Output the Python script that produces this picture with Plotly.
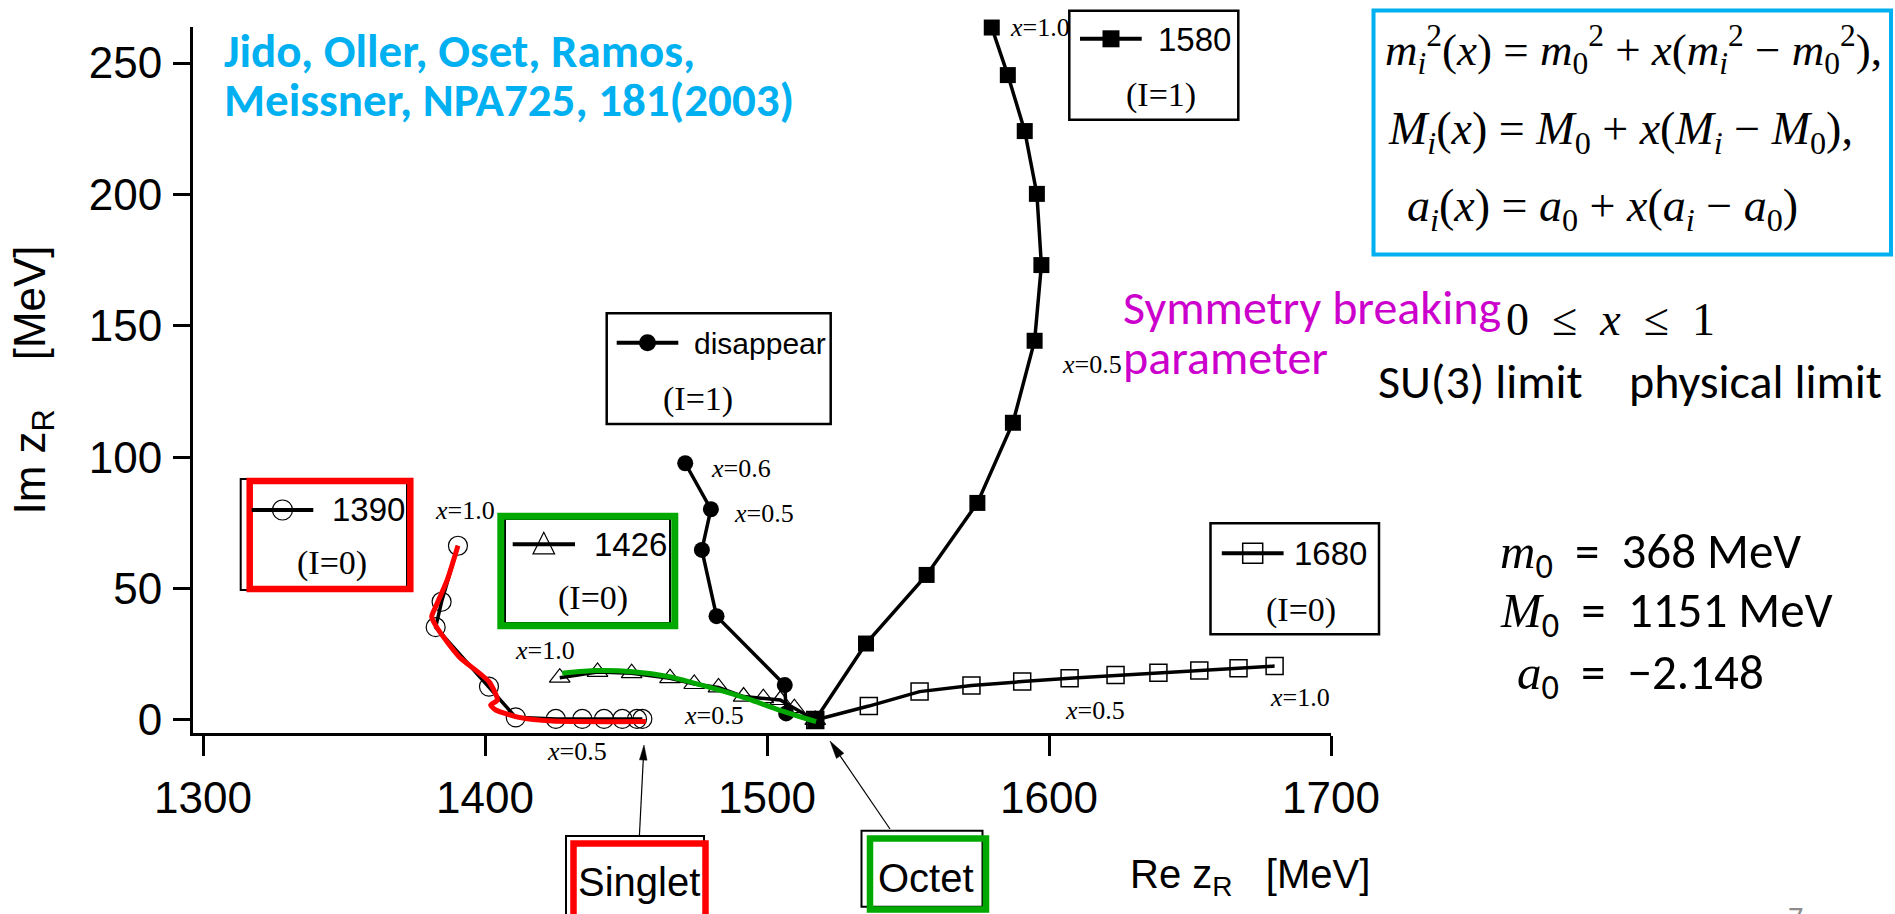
import math
import plotly.graph_objects as go

# ---------------------------------------------------------------
# Pole trajectories of the 1/2- Lambda/Sigma resonances (Re z_R, Im z_R in MeV)
# as the SU(3) breaking parameter x goes from 1.0 (physical) to 0.0 (SU(3) limit)
# ---------------------------------------------------------------
re_1390 = [1390.4, 1384.6, 1382.5, 1401.4, 1410.9, 1425.1, 1434.5, 1442.2, 1448.7, 1453.9, 1455.8]
im_1390 = [66.3, 45.0, 35.3, 12.7, 1.0, 0.4, 0.4, 0.4, 0.4, 0.4, 0.4]

re_1426 = [1426.5, 1439.9, 1452.0, 1465.6, 1474.2, 1482.8, 1491.7, 1498.7, 1504.7, 1509.7, 1517.1]
im_1426 = [16.1, 18.3, 17.8, 15.9, 13.7, 12.4, 8.9, 8.3, 7.6, 4.5, 0.0]

re_disappear = [1471.0, 1480.1, 1476.9, 1482.1, 1506.3, 1506.8, 1517.1]
im_disappear = [97.7, 80.2, 64.7, 39.5, 13.3, 2.5, 0.0]

re_1580 = [1579.7, 1585.4, 1591.4, 1595.7, 1597.3, 1594.9, 1587.2, 1574.6, 1556.6, 1535.1, 1517.1]
im_1580 = [263.5, 245.4, 224.1, 200.2, 173.1, 144.3, 113.1, 82.6, 55.2, 29.1, 0.0]

re_1680 = [1680.0, 1667.2, 1653.3, 1638.8, 1623.6, 1607.3, 1590.5, 1572.5, 1554.1, 1536.1, 1517.1]
im_1680 = [20.5, 19.7, 18.8, 18.0, 17.1, 15.9, 14.6, 13.1, 10.8, 5.3, 0.0]

# hand-drawn highlight strokes: singlet branch (red) and octet branch (green)
re_singlet_path = [1390.4, 1386.6, 1382.5, 1381.1, 1383.1, 1390.8, 1401.4, 1404.4, 1402.0, 1403.8, 1412.1, 1423.9, 1457.0]
im_singlet_path = [66.3, 53.3, 43.1, 39.3, 34.9, 24.1, 14.6, 7.6, 5.7, 3.8, 1.0, -0.4, -0.6]
re_octet_path = [1427.4, 1439.3, 1452.3, 1465.3, 1480.7, 1492.5, 1504.4, 1517.4]
im_octet_path = [17.8, 18.8, 18.4, 16.5, 12.1, 8.3, 3.8, -0.6]

x_ticks = [1300, 1400, 1500, 1600, 1700]
y_ticks = [0, 50, 100, 150, 200, 250]

BLACK = "black"
RED = "#FF0000"
GREEN = "#00A800"
CYAN = "#00B0F0"
MAGENTA = "#CC00CC"
SANS = "Liberation Sans, Arial, sans-serif"
SERIF = "Liberation Serif, Times New Roman, serif"
HUMAN = "Calibri, Carlito, Lato, sans-serif"

# plot area in page pixels
PL, PR, PT, PB = 193, 1331, 27, 733
W, H = 1895, 914


def fx(p):
    return (p - PL) / (PR - PL)


def fy(p):
    return (PB - p) / (PB - PT)


fig = go.Figure()


def trajectory(xs, ys, symbol, size, lw_marker, name):
    fig.add_trace(go.Scatter(
        x=xs, y=ys, mode="lines+markers", name=name,
        line=dict(color=BLACK, width=3.5),
        marker=dict(symbol=symbol, size=size, color=BLACK,
                    line=dict(color=BLACK, width=lw_marker)),
        cliponaxis=False, showlegend=False))


trajectory(re_1390, im_1390, "circle-open", 19, 1.2, "1390 (I=0)")
trajectory(re_1426, im_1426, "triangle-up-open", 18, 1.2, "1426 (I=0)")
trajectory(re_disappear, im_disappear, "circle", 16, 0, "disappear (I=1)")
trajectory(re_1680, im_1680, "square-open", 17, 1.5, "1680 (I=0)")
trajectory(re_1580, im_1580, "square", 16, 0, "1580 (I=1)")

fig.add_trace(go.Scatter(x=re_singlet_path, y=im_singlet_path, mode="lines",
                         line=dict(color=RED, width=5, shape="spline", smoothing=0.6),
                         cliponaxis=False, showlegend=False, hoverinfo="skip"))
fig.add_trace(go.Scatter(x=re_octet_path, y=im_octet_path, mode="lines",
                         line=dict(color=GREEN, width=5, shape="spline", smoothing=0.6),
                         cliponaxis=False, showlegend=False, hoverinfo="skip"))

shapes = []


def rect(x0, y0, x1, y1, color=BLACK, width=2.5, fill=None):
    shapes.append(dict(type="rect", xref="paper", yref="paper",
                       x0=fx(x0), x1=fx(x1), y0=fy(y1), y1=fy(y0),
                       line=dict(color=color, width=width),
                       fillcolor=fill if fill else "rgba(0,0,0,0)"))


def seg(x0, y0, x1, y1, width=4):
    shapes.append(dict(type="line", xref="paper", yref="paper",
                       x0=fx(x0), x1=fx(x1), y0=fy(y0), y1=fy(y1),
                       line=dict(color=BLACK, width=width)))


def circle(cx, cy, r, filled, width=1.2):
    shapes.append(dict(type="circle", xref="paper", yref="paper",
                       x0=fx(cx - r), x1=fx(cx + r), y0=fy(cy + r), y1=fy(cy - r),
                       line=dict(color=BLACK, width=width),
                       fillcolor=BLACK if filled else "rgba(0,0,0,0)"))


def square(cx, cy, h, filled, width=1.5):
    shapes.append(dict(type="rect", xref="paper", yref="paper",
                       x0=fx(cx - h), x1=fx(cx + h), y0=fy(cy + h), y1=fy(cy - h),
                       line=dict(color=BLACK, width=width),
                       fillcolor=BLACK if filled else "rgba(0,0,0,0)"))


def polygon(pts, filled=False, width=1.2):
    path = "M " + " L ".join("{:.5f},{:.5f}".format(fx(a), fy(b)) for a, b in pts) + " Z"
    shapes.append(dict(type="path", xref="paper", yref="paper", path=path,
                       line=dict(color=BLACK, width=width),
                       fillcolor=BLACK if filled else "rgba(0,0,0,0)"))


def triangle(cx, cy, h):
    polygon([(cx, cy - h), (cx - h * 0.9, cy + h * 0.8), (cx + h * 0.9, cy + h * 0.8)])


def arrow(tail, tip, length=16, half=4):
    ux, uy = tail[0] - tip[0], tail[1] - tip[1]
    n = math.hypot(ux, uy)
    ux, uy = ux / n, uy / n
    bx, by = tip[0] + ux * length, tip[1] + uy * length
    seg(tail[0], tail[1], bx, by, width=1.2)
    polygon([tip, (bx - uy * half, by + ux * half), (bx + uy * half, by - ux * half)],
            filled=True, width=0.5)


# formula box
rect(1373.5, 10.5, 1891, 254.5, color=CYAN, width=4)

# legend boxes with their sample glyphs
rect(1069.3, 10.7, 1238.3, 119.7)
seg(1080, 38.8, 1141.7, 38.8)
square(1111, 38.8, 8.5, True, 0)

rect(606.7, 313.3, 830.7, 424)
seg(616.7, 342.7, 678.3, 342.7)
circle(647.5, 342.7, 8.5, True, 0)

rect(1210.5, 523.3, 1379, 634.3)
seg(1221.8, 553.3, 1283.6, 553.3)
square(1252.7, 553.3, 10, False)

rect(240.7, 479, 407, 590, width=2)
rect(249.7, 481, 410.3, 589, color=RED, width=6.5)
seg(251.7, 510, 313.3, 510)
circle(282.5, 510, 10, False)

rect(505, 519, 670, 623, width=2)
rect(500.8, 516.2, 674.8, 625.8, color=GREEN, width=7)
seg(512.7, 544.3, 575, 544.3)
triangle(543.8, 544.3, 12)

# Singlet / Octet tags under the axis
rect(566, 836, 704, 930, width=2)
rect(573.5, 843.5, 705.5, 930, color=RED, width=6.5)
rect(861.5, 830.7, 982.5, 906.7, width=2)
rect(870, 838.5, 986, 909.5, color=GREEN, width=6.5)

# arrows from the tags to the SU(3)-limit poles
arrow((639.4, 836), (644, 745), length=15, half=3.8)
arrow((890, 829), (830, 741), length=18, half=4.5)

annotations = []


def text(s, x, y, size, family=SANS, color=BLACK, xanchor="left", yanchor="middle"):
    annotations.append(dict(text=s, x=fx(x), y=fy(y), xref="paper", yref="paper",
                            xanchor=xanchor, yanchor=yanchor, showarrow=False,
                            font=dict(size=size, family=family, color=color)))


def it(s):
    return '<span style="font-family:Liberation Serif"><i>' + s + '</i></span>'


# reference
text("<b>Jido, Oller, Oset, Ramos,</b>", 222, 51, 47, HUMAN, CYAN)
text("<b>Meissner, NPA725, 181(2003)</b>", 222, 100, 47, HUMAN, CYAN)

# interpolation formulas
text("<i>m</i><sub><i>i</i></sub><sup>2</sup>(<i>x</i>) = <i>m</i><sub>0</sub><sup>2</sup> + "
     "<i>x</i>(<i>m</i><sub><i>i</i></sub><sup>2</sup> − <i>m</i><sub>0</sub><sup>2</sup>),",
     1383, 50, 45, SERIF)
text("<i>M</i><sub><i>i</i></sub>(<i>x</i>) = <i>M</i><sub>0</sub> + "
     "<i>x</i>(<i>M</i><sub><i>i</i></sub> − <i>M</i><sub>0</sub>),",
     1386, 132, 46, SERIF)
text("<i>a</i><sub><i>i</i></sub>(<i>x</i>) = <i>a</i><sub>0</sub> + "
     "<i>x</i>(<i>a</i><sub><i>i</i></sub> − <i>a</i><sub>0</sub>)",
     1405, 209, 46, SERIF)

text("Symmetry breaking", 1121, 307, 48, HUMAN, MAGENTA)
text("parameter", 1121, 357, 48, HUMAN, MAGENTA)
text("0&nbsp; ≤&nbsp; <i>x</i>&nbsp; ≤&nbsp; 1", 1504, 319, 46, SERIF)
text("SU(3) limit", 1376, 382, 48, HUMAN)
text("physical limit", 1627, 382, 48, HUMAN)

text(it("m") + "<sub>0</sub>&nbsp; =&nbsp; 368 MeV", 1498, 554, 49, HUMAN)
text(it("M") + "<sub>0</sub>&nbsp; =&nbsp; 1151 MeV", 1498, 613, 49, HUMAN)
text(it("a") + "<sub>0</sub>&nbsp; =&nbsp; −2.148", 1515, 675, 49, HUMAN)

# legend labels
text("1580", 1156, 39.5, 33)
text("(I=1)", 1160.8, 94.5, 34, SERIF, xanchor="center")
text("disappear", 692, 343, 30)
text("(I=1)", 697.5, 399, 34, SERIF, xanchor="center")
text("1390", 330, 509.5, 33)
text("(I=0)", 331.7, 562.5, 34, SERIF, xanchor="center")
text("1426", 591.5, 544, 33)
text("(I=0)", 593.3, 598, 34, SERIF, xanchor="center")
text("1680", 1292, 553.3, 33)
text("(I=0)", 1301, 609.7, 34, SERIF, xanchor="center")

# x-value markers along the trajectories
xlab = [("<i>x</i>=1.0", 1008, 28), ("<i>x</i>=0.5", 1060, 364.7),
        ("<i>x</i>=0.5", 1063, 710.5), ("<i>x</i>=1.0", 1268, 697.5),
        ("<i>x</i>=0.6", 709, 468), ("<i>x</i>=0.5", 731.7, 513),
        ("<i>x</i>=1.0", 433.3, 510.5), ("<i>x</i>=0.5", 545, 751.5),
        ("<i>x</i>=1.0", 513, 650.8), ("<i>x</i>=0.5", 681.7, 715.8)]
for s, x, y in xlab:
    text(s, x, y, 26, SERIF)

text("Singlet", 639.4, 881.7, 40, SANS, xanchor="center")
text("Octet", 926, 878.3, 40, SANS, xanchor="center")
text("Re z<sub>R</sub>   [MeV]", 1128, 877, 40, SANS)
text("7", 1795, 897, 30, HUMAN, "#8C8C8C", xanchor="center", yanchor="top")

fig.update_layout(
    width=W, height=H,
    margin=dict(l=PL, r=W - PR, t=PT, b=H - PB, pad=0),
    plot_bgcolor="white", paper_bgcolor="white",
    shapes=shapes, annotations=annotations,
    showlegend=False,
    xaxis=dict(range=[1296.45, 1700.0], tickvals=x_ticks, ticktext=[str(v) for v in x_ticks],
               showgrid=False, zeroline=False, showline=True, linecolor=BLACK, linewidth=3,
               ticks="outside", ticklen=20, tickwidth=3, tickcolor=BLACK,
               tickfont=dict(size=44, family=SANS, color=BLACK), ticklabelstandoff=4),
    yaxis=dict(range=[-4.95, 263.7], tickvals=y_ticks, ticktext=[str(v) for v in y_ticks],
               showgrid=False, zeroline=False, showline=True, linecolor=BLACK, linewidth=3,
               ticks="outside", ticklen=17, tickwidth=3, tickcolor=BLACK,
               tickfont=dict(size=44, family=SANS, color=BLACK), ticklabelstandoff=2,
               title=dict(text="Im z<sub>R</sub>&nbsp;&nbsp;&nbsp;&nbsp;[MeV]", standoff=30,
                          font=dict(size=44, family=SANS, color=BLACK))),
)

fig.write_html("out.html")
